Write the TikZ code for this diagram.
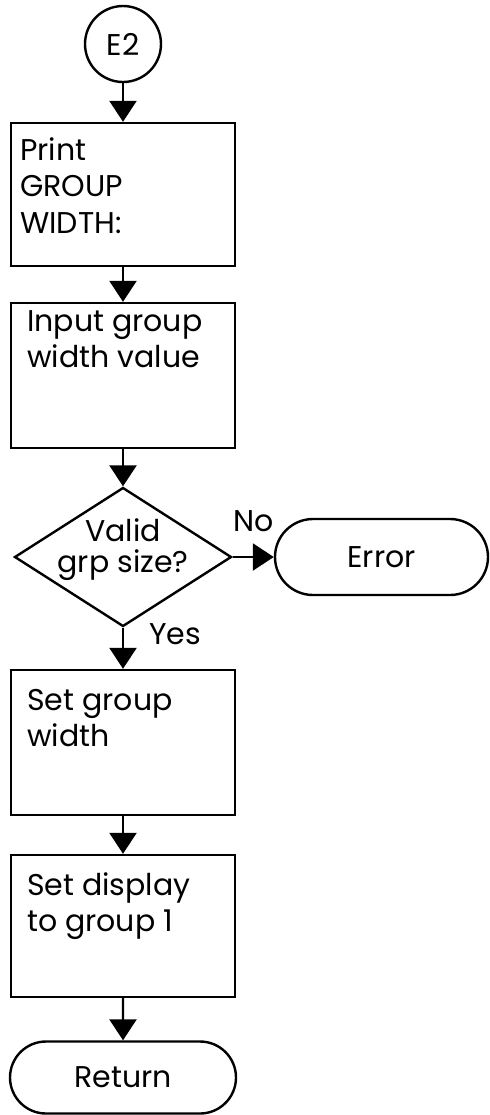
\documentclass[tikz,border=0pt]{standalone}
\usepackage{fontspec}
\setmainfont{Poppins}
\usetikzlibrary{arrows.meta,shapes.geometric,shapes.misc}

\begin{document}
\begin{tikzpicture}[x=0.5pt,y=-0.5pt,
    every node/.style={font=\fontsize{15}{18.3}\selectfont},
    proc/.style={draw,line width=1.2pt,minimum width=112pt,inner sep=0pt},
    txt/.style={anchor=north west,align=left,inner sep=0pt},
    term/.style={draw,line width=1.2pt,rounded rectangle,inner sep=0pt},
    flow/.style={line width=1.2pt,-{Triangle[length=10.5pt,width=13.5pt]}},
    lbl/.style={inner sep=0pt}]
            \useasboundingbox (0,0) rectangle (489,1115);
            \node[draw,circle,line width=1.2pt,minimum size=38pt,inner sep=0pt] (e2) at (123,44) {E2};
            \node[proc,minimum height=71.5pt] (print) at (123,194.5) {};
            \node[txt] (printtxt) at ([shift={(5pt,-7.5pt)}]print.north west) {Print\\GROUP\\WIDTH:};
            \node[proc,minimum height=72.5pt] (input) at (123,375.5) {};
            \node[txt] (inputtxt) at ([shift={(8.5pt,-4pt)}]input.north west) {Input group\\width value};
            \node[draw,diamond,line width=1.2pt,minimum width=108.5pt,minimum height=69.5pt,inner sep=0pt] (valid) at (123,557) {};
            \node[align=center,inner sep=0pt,font=\fontsize{15}{15.5}\selectfont] (validtxt) at ([yshift=3.5pt]valid.center) {Valid\\grp size?};
            \node[term,minimum width=106.5pt,minimum height=38pt] (error) at (381.5,557) {Error};
            \node[proc,minimum height=72.5pt] (set) at (123,742.5) {};
            \node[txt] (settxt) at ([shift={(8.5pt,-10pt)}]set.north west) {Set group\\width};
            \node[proc,minimum height=71pt] (disp) at (123,926) {};
            \node[txt] (disptxt) at ([shift={(8.5pt,-9pt)}]disp.north west) {Set display\\to group 1};
            \node[term,minimum width=113pt,minimum height=36pt] (ret) at (123,1077.5) {Return};
            \draw[flow] (e2) -- (print);
            \draw[flow] (print) -- (input);
            \draw[flow] (input) -- (valid);
            \draw[flow] (valid.east) -- node[lbl,above=12pt] (no) {No} (error.west);
            \draw[flow] (valid.south) -- node[lbl,right=12.5pt,pos=0.15] (yes) {Yes} (set.north);
            \draw[flow] (set) -- (disp);
            \draw[flow] (disp) -- (ret);
        \end{tikzpicture}
\end{document}
